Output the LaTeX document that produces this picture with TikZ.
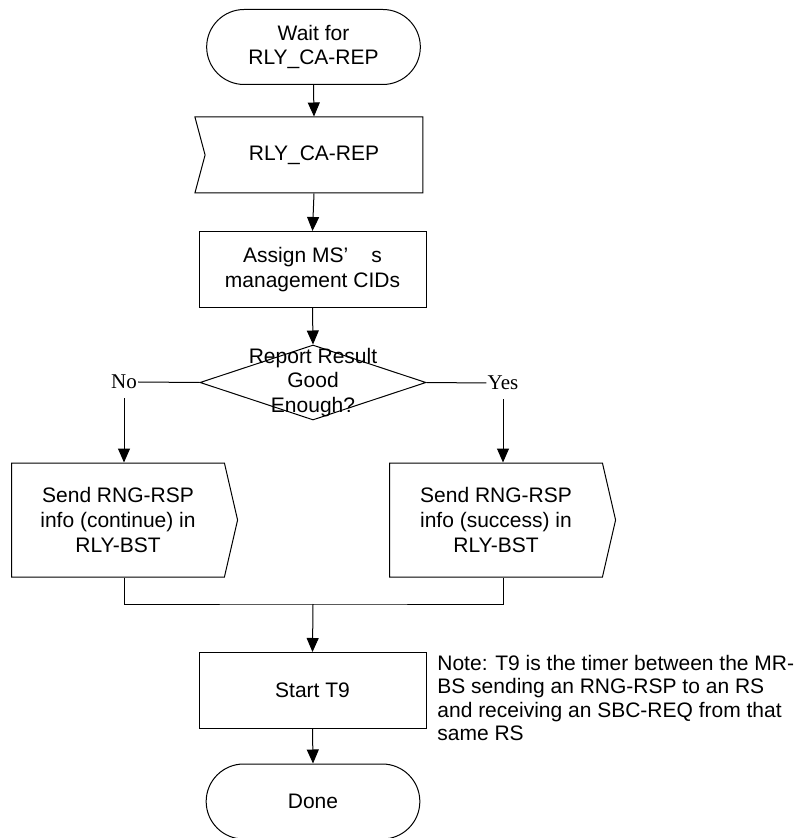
\documentclass[tikz,border=0pt]{standalone}
\usepackage{fontspec}
\setmainfont{Liberation Serif}
\setsansfont{Liberation Sans}
\usetikzlibrary{arrows.meta,positioning,shapes.misc,shapes.geometric,shapes.symbols}

\begin{document}
\begin{tikzpicture}[x=0.5pt, y=-0.5pt,
    every node/.style={font=\sffamily\fontsize{10.5}{12.3}\selectfont},
    line/.style={line width=0.5pt},
    arr/.style={line width=0.5pt, -{Triangle[length=7pt,width=6pt]}},
    term/.style={draw, line width=0.5pt, rounded rectangle, minimum width=113.5pt, minimum height=37.5pt, align=center},
    procbox/.style={draw, line width=0.5pt, rectangle, minimum width=113.5pt, minimum height=38pt, align=center},
    recvbox/.style={draw, line width=0.5pt, signal, signal from=west, signal to=nowhere, signal pointer angle=150, minimum width=114pt, minimum height=38pt, align=center},
    sendbox/.style={draw, line width=0.5pt, signal, signal to=east, signal from=nowhere, signal pointer angle=154, minimum width=113pt, minimum height=57pt, align=center},
    decision/.style={draw, line width=0.5pt, diamond, minimum width=113pt, minimum height=37.5pt, inner sep=0pt},
    yesno/.style={font=\rmfamily\fontsize{10.5}{12}\selectfont, inner sep=0.5pt},
    note/.style={align=left, inner sep=0pt, font=\sffamily\fontsize{10.5}{11.6}\selectfont}]
    \useasboundingbox (0,0) rectangle (803,838);

    % Ana akis
    \node[term] (wait) at (313.5,47) {Wait for\\RLY\_CA-REP};
    \node[recvbox] (recv) at (314,155) {RLY\_CA-REP};
    \node[procbox] (assign) at (312.5,269.5) {Assign MS’\hspace{1.1em}s\\management CIDs};
    \node[decision, label={[align=center, inner sep=0pt]center:Report Result\\Good\\Enough?}] (dec) at (313,382.5) {};

    % Dallar
    \node[yesno] (no) at (124,382) {No};
    \node[yesno] (yes) at (503,383) {Yes};
    \node[sendbox] (sendL) at (118,520) {Send RNG-RSP\\info (continue) in\\RLY-BST};
    \node[sendbox] (sendR) at (496,520) {Send RNG-RSP\\info (success) in\\RLY-BST};
    \coordinate (join) at (313,604);

    \node[procbox] (t9) at (312.5,690.5) {Start T9};
    \node[term] (done) at (313,801.5) {Done};
    \node[note, anchor=north west] (tnote) at (437,655) {Note: T9 is the timer between the MR-\\BS sending an RNG-RSP to an RS\\and receiving an SBC-REQ from that\\same RS};

    % Oklar
    \draw[arr] (wait.south) -- (recv.north);
    \draw[arr] (recv.south) -- (assign.north);
    \draw[arr] (assign.south) -- (dec.north);
    \draw[line] (dec.west) -- (no.east);
    \draw[line] (dec.east) -- (yes.west);
    \draw[arr, shorten <=4pt] (no.south) -- (no.south |- sendL.north);
    \draw[arr, shorten <=4pt] (yes.south) -- (yes.south |- sendR.north);
    \draw[line] (no.south |- sendL.south) |- (join) -| (yes.south |- sendR.south);
    \draw[arr] (join) -- (t9.north);
    \draw[arr] (t9.south) -- (done.north);
\end{tikzpicture}
\end{document}
